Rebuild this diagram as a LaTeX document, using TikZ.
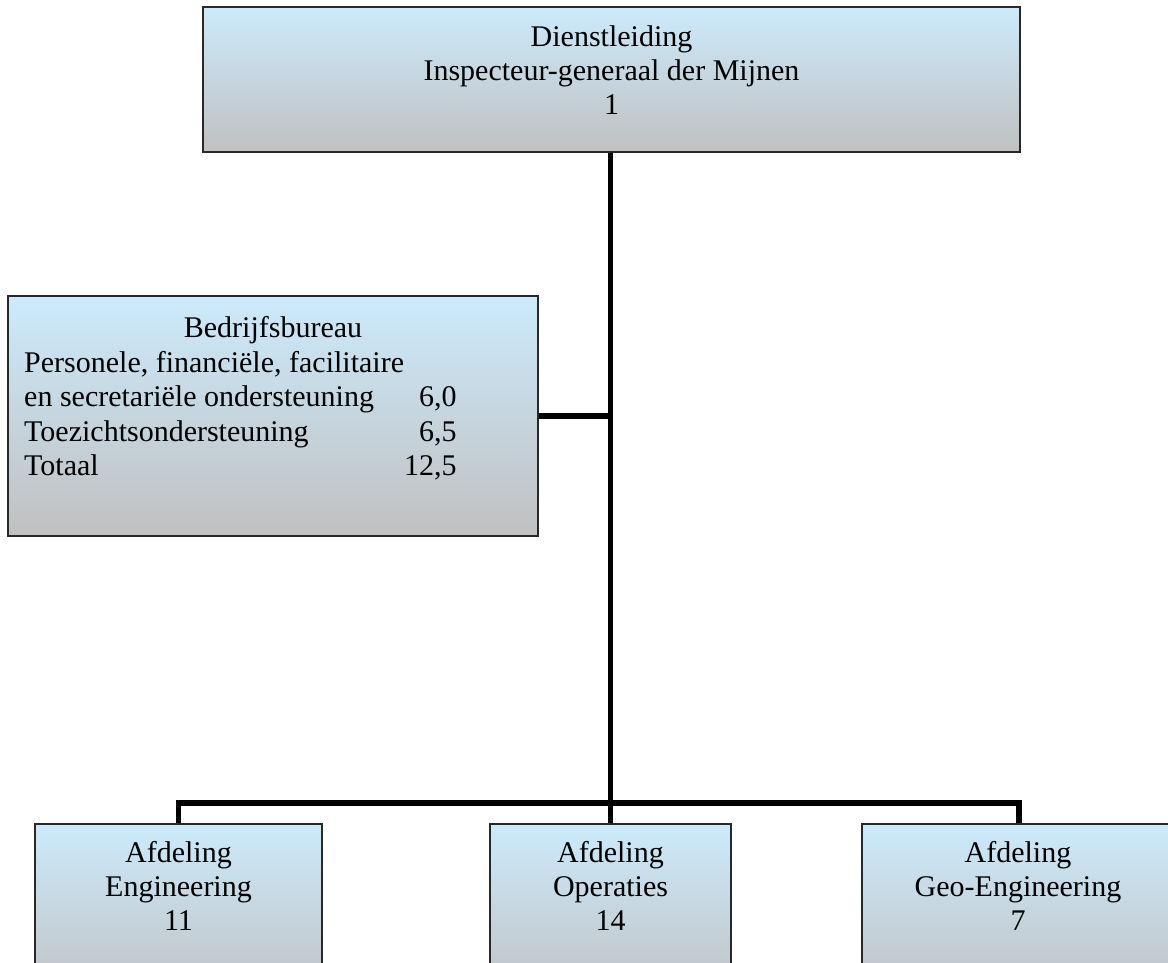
\documentclass[tikz,border=0pt]{standalone}
\usepackage{fontspec}
\setmainfont{Liberation Serif}
\usepackage{tikz}

\definecolor{boxtop}{RGB}{204,234,252}
\definecolor{boxbottom}{RGB}{192,192,192}
\definecolor{boxline}{RGB}{40,40,40}

\tikzset{
  unitbox/.style={draw=boxline, line width=1.5pt, top color=boxtop, bottom color=boxbottom, inner sep=0pt},
  unittext/.style={align=center, inner sep=0pt, font=\fontsize{30}{34}\selectfont},
  link/.style={line width=5.5pt}
}

\begin{document}
\begin{tikzpicture}[x=1pt, y=-1pt]
\useasboundingbox (0,0) rectangle (1168,962);
\clip (0,0) rectangle (1168,962);

\node[unitbox, minimum width=817pt, minimum height=145pt] (leiding) at (611.5,79.5) {};
\node[unittext, anchor=base] (leiding-txt) at (611.5,114) {Dienstleiding\\Inspecteur-generaal der Mijnen\\1};

\node[unitbox, minimum width=530pt, minimum height=240pt] (bureau) at (273,416) {};
\node[unittext, anchor=base] (bureau-kop) at (273,337) {Bedrijfsbureau};
\node[inner sep=0pt, anchor=north west, font=\fontsize{30}{34.5}\selectfont] (bureau-txt) at (24,348) {%
  \begin{tabular}{@{}p{380pt}@{}r@{}}
  Personele, financiële, facilitaire & \\
  en secretariële ondersteuning & 6,0\\
  Toezichtsondersteuning & 6,5\\
  Totaal & 12,5
  \end{tabular}};

\node[unitbox, anchor=north, minimum width=287pt, minimum height=180pt] (eng) at (178.5,823) {};
\node[unittext, anchor=base] (eng-txt) at (178.5,930) {Afdeling\\Engineering\\11};

\node[unitbox, anchor=north, minimum width=241pt, minimum height=180pt] (ops) at (610.5,823) {};
\node[unittext, anchor=base] (ops-txt) at (610.5,930) {Afdeling\\Operaties\\14};

\node[unitbox, anchor=north west, minimum width=314pt, minimum height=180pt] (geo) at (861,823) {};
\node[unittext, anchor=base] (geo-txt) at (1018,930) {Afdeling\\Geo-Engineering\\7};

% lijnen
\coordinate (bus) at (610.5,803);
\draw[link] (leiding.south -| bus) -- (ops.north);
\draw[link] (bureau.east) -- (bureau.east -| bus);
\draw[link] (eng.north) |- (bus) -| (geo.north);
\end{tikzpicture}
\end{document}
